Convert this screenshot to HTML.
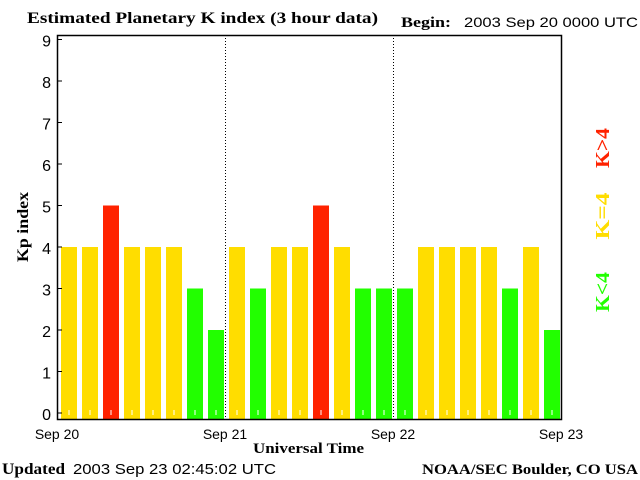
<!DOCTYPE html>
<html><head><meta charset="utf-8"><style>
body{margin:0;background:#fff;}
svg{display:block;}
</style></head><body>
<svg id="chart" width="640" height="480" xmlns="http://www.w3.org/2000/svg">
<text x="27" y="23" textLength="351" lengthAdjust="spacingAndGlyphs" font-family="Liberation Serif, serif" font-weight="bold" font-size="16">Estimated Planetary K index (3 hour data)</text>
<text x="401" y="27" textLength="50" lengthAdjust="spacingAndGlyphs" font-family="Liberation Serif, serif" font-weight="bold" font-size="15">Begin:</text>
<text x="464" y="27" textLength="174" lengthAdjust="spacingAndGlyphs" font-family="Liberation Sans, sans-serif" font-size="14">2003 Sep 20 0000 UTC</text>
<text transform="translate(28,227) rotate(-90)" text-anchor="middle" textLength="70" lengthAdjust="spacingAndGlyphs" font-family="Liberation Serif, serif" font-weight="bold" font-size="16">Kp index</text>
<text x="253" y="453" textLength="111" lengthAdjust="spacingAndGlyphs" font-family="Liberation Serif, serif" font-weight="bold" font-size="15">Universal Time</text>
<text x="2" y="474" textLength="63" lengthAdjust="spacingAndGlyphs" font-family="Liberation Serif, serif" font-weight="bold" font-size="16">Updated</text>
<text x="73" y="474" textLength="203" lengthAdjust="spacingAndGlyphs" font-family="Liberation Sans, sans-serif" font-size="15">2003 Sep 23 02:45:02 UTC</text>
<text x="422" y="474" textLength="216" lengthAdjust="spacingAndGlyphs" font-family="Liberation Serif, serif" font-weight="bold" font-size="15">NOAA/SEC Boulder, CO USA</text>
<text transform="translate(609,148) rotate(-90)" text-anchor="middle" textLength="40" lengthAdjust="spacingAndGlyphs" fill="#ff2200" font-family="Liberation Serif, serif" font-weight="bold" font-size="20">K&gt;4</text>
<text transform="translate(609,216) rotate(-90)" text-anchor="middle" textLength="47" lengthAdjust="spacingAndGlyphs" fill="#ffdd00" font-family="Liberation Serif, serif" font-weight="bold" font-size="20">K=4</text>
<text transform="translate(609,292) rotate(-90)" text-anchor="middle" textLength="40" lengthAdjust="spacingAndGlyphs" fill="#22ff00" font-family="Liberation Serif, serif" font-weight="bold" font-size="20">K&lt;4</text>
<g id="plot"></g>
</svg>
<script>
const values = [4,4,5,4,4,4,3,2, 4,3,4,4,5,4,3,3, 3,4,4,4,4,3,4,2];
const yTicks = [0,1,2,3,4,5,6,7,8,9];
const dayLabels = ["Sep 20","Sep 21","Sep 22","Sep 23"];
const NS = "http://www.w3.org/2000/svg";
const L=57,R=561,T=35,B=419;
const xPos = i => L + (R-L)*i/values.length;
const yPos = v => 413 - v*41.5;
const g = document.getElementById('plot');
function mk(tag, attrs){const e=document.createElementNS(NS,tag);for(const k in attrs)e.setAttribute(k,attrs[k]);g.appendChild(e);return e;}
const slot=(R-L)/values.length;
values.forEach((v,i)=>{
  const c = v>4?'#ff2200':(v===4?'#ffdd00':'#22ff00');
  const r = mk('rect',{x:xPos(i)+4,y:yPos(v),width:slot-5,height:B-yPos(v),fill:c});
  
  
  const t = mk('line',{x1:xPos(i)+12,x2:xPos(i)+12,y1:410,y2:415,stroke:'#fff','stroke-width':1});
  
  
});
for(let d=1;d<dayLabels.length-1;d++){
  const x=L+(R-L)*d/(dayLabels.length-1)+0.5;
  const l=mk('line',{x1:x,x2:x,y1:T,y2:B,stroke:'#000','stroke-dasharray':'1,2'});
  
  
}
const fr=mk('rect',{x:L+0.5,y:T+0.5,width:R-L,height:B-T,fill:'none',stroke:'#000','stroke-width':1.5});


yTicks.forEach(v=>{
  const y=yPos(v);
  const tk=mk('line',{x1:L,x2:L+5,y1:y,y2:y,stroke:'#000'});
  
  
  const t=mk('text',{x:51,y:y+7,'text-anchor':'end','font-family':'Liberation Sans, sans-serif','font-size':'16'});
  t.textContent=v;
  
  
});
dayLabels.forEach((s,i)=>{
  const x=L+(R-L)*i/(dayLabels.length-1);
  const t=mk('text',{x:x,y:439,'text-anchor':'middle','font-family':'Liberation Sans, sans-serif','font-size':'14'});
  t.textContent=s;
  
  
});
</script>
</body></html>
